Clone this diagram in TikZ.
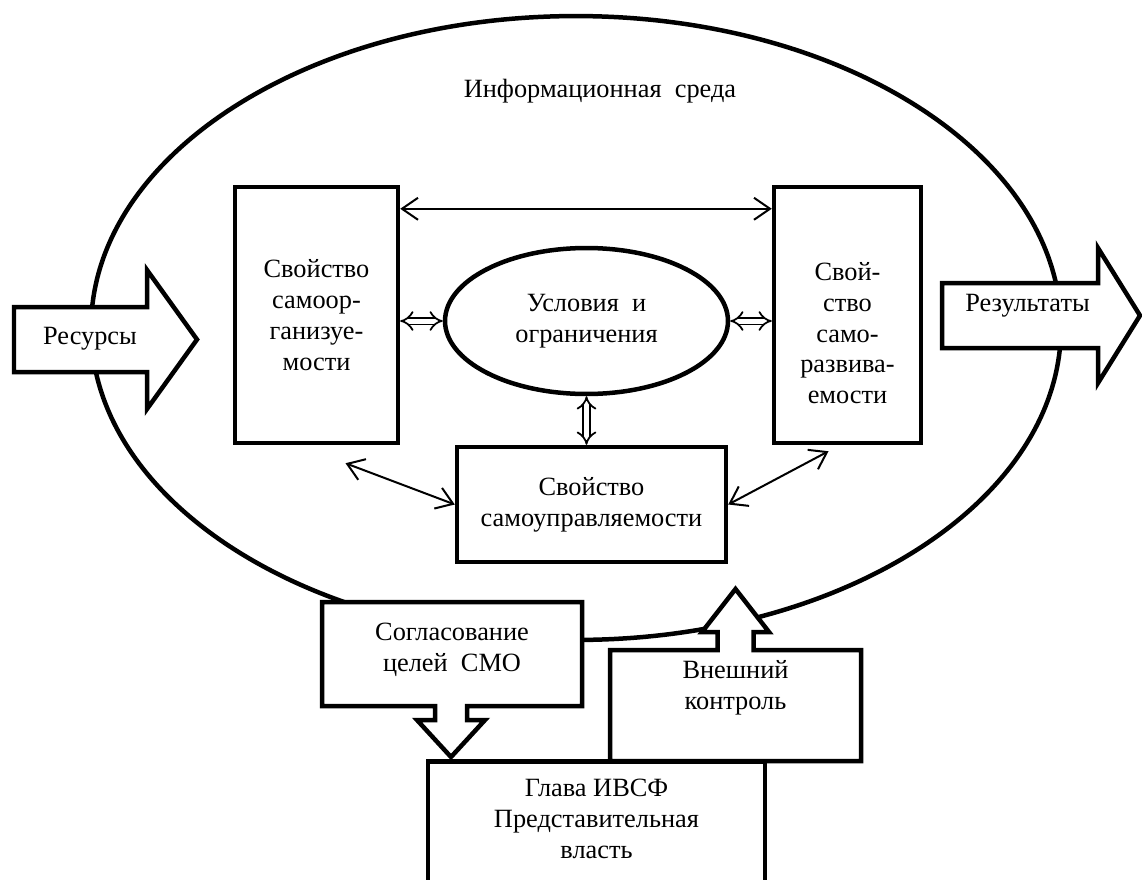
\documentclass[tikz,border=0pt]{standalone}
\usepackage{fontspec}
\setmainfont{Liberation Serif}
\usetikzlibrary{arrows.meta,shapes.geometric,positioning}
\newcommand{\diafont}{\fontsize{15}{17.6}\selectfont}

\begin{document}
\begin{tikzpicture}[x=0.02cm, y=-0.02cm,
  box/.style={draw, line width=0.09cm, fill=white, align=center, font=\diafont, inner sep=0pt},
  txt/.style={align=center, font=\diafont, inner sep=0pt},
  link/.style={line width=0.04cm, {Straight Barb[length=0.32cm,width=0.44cm]}-{Straight Barb[length=0.32cm,width=0.44cm]}},
  dlink/.style={double, double distance=0.1cm, line width=0.035cm, {Implies}-{Implies}},
  blk/.style={line width=0.09cm, fill=white}]
  \useasboundingbox (0,0) rectangle (1142,879);
  \clip (0,0) rectangle (1142,879);
  \draw[line width=0.09cm] (576,328) ellipse [x radius=9.7cm, y radius=6.24cm];
  \node[txt] (env) at (600,91) {Информационная~ среда};

  \node[box, minimum width=3.26cm, minimum height=5.12cm] (lbox) at (316.5,315) {Свойство\\самоор-\\ганизуе-\\мости};
  \node[box, minimum width=2.94cm, minimum height=5.12cm] (rbox) at (847.5,315) {};
  \node[txt, below=1.54cm of rbox.north] (rtxt) {Свой-\\ство\\само-\\развива-\\емости};
  \node[box, ellipse, minimum width=5.66cm, minimum height=2.92cm] (cond) at (586.5,321) {Условия~ и\\ограничения};
  \node[box, minimum width=5.38cm, minimum height=2.3cm] (sbox) at (591.5,504.5) {Свойство\\самоуправляемости};

  \draw[link] ([shift={(0,24)}]lbox.north east) -- ([shift={(0,24)}]rbox.north west);
  \draw[dlink] (cond.west -| lbox.east) -- (cond.west);
  \draw[dlink] (cond.east) -- (cond.east -| rbox.west);
  \draw[dlink] (cond.south) -- (cond.south |- sbox.north);
  \draw[link] ([shift={(29,18)}]lbox.south) -- (sbox.west);
  \draw[link] (sbox.east) -- ([shift={(-19,6)}]rbox.south);

  \draw[blk] (14,307) -- (147,307) -- (147,270) -- (197,339.5) -- (147,409) -- (147,372) -- (14,372) -- cycle;
  \node[txt] (res) at (90,339) {Ресурсы};
  \draw[blk] (942,283) -- (1098,283) -- (1098,248) -- (1140,315.5) -- (1098,383) -- (1098,348) -- (942,348) -- cycle;
  \node[txt] (out) at (1027.5,306) {Результаты};

  \draw[blk] (322,602) -- (582,602) -- (582,706) -- (467,706) -- (467,720) -- (485,720) -- (451,757) -- (417,720) -- (435,720) -- (435,706) -- (322,706) -- cycle;
  \node[txt] (goal) at (452,650) {Согласование\\целей~ СМО};
  \draw[blk] (610,650) -- (717.5,650) -- (717.5,632) -- (702,632) -- (735.5,589) -- (769,632) -- (753.5,632) -- (753.5,650) -- (861,650) -- (861,761) -- (610,761) -- cycle;
  \node[txt] (ctrl) at (735.5,688) {Внешний\\контроль};

  \node[box, anchor=north, minimum width=6.74cm, minimum height=4cm] (head) at (596.5,759) {};
  \node[txt, below=0.4cm of head.north] (htxt) {Глава ИВСФ\\Представительная\\власть};
\end{tikzpicture}
\end{document}
